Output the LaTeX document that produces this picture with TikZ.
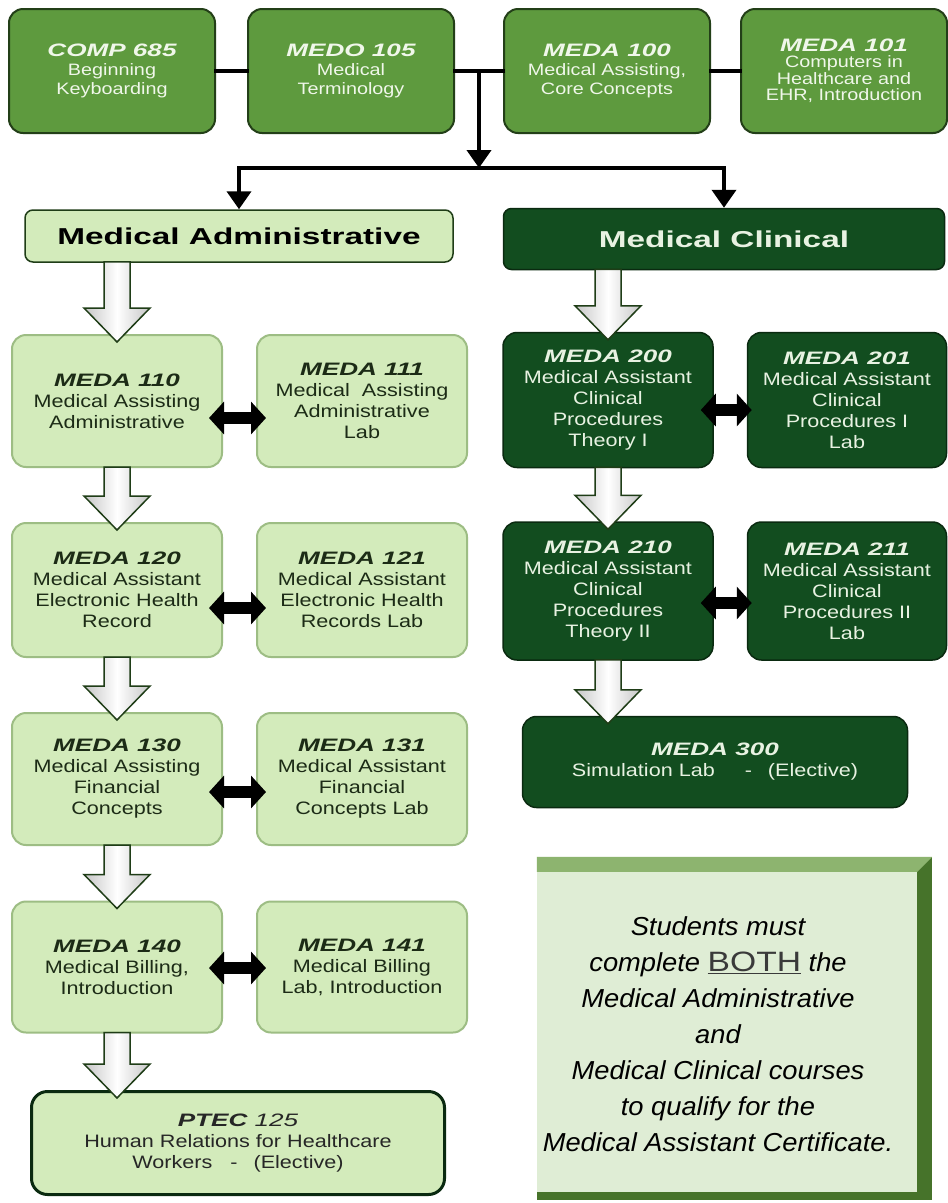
\documentclass[tikz,border=0pt]{standalone}
\usepackage{fontspec}
\setmainfont{Liberation Sans}[FakeStretch=1.2]
\newfontfamily\widefont{Liberation Sans}[FakeStretch=1.45]
\newfontfamily\notefont{Liberation Sans}[FakeStretch=1.05]
\usetikzlibrary{arrows.meta,calc}

\definecolor{topgreen}{HTML}{5E9A3E}
\definecolor{topedge}{HTML}{233F18}
\definecolor{toptext}{HTML}{F0F7EA}
\definecolor{admfill}{HTML}{D3EBBB}
\definecolor{admedge}{HTML}{9DBD84}
\definecolor{admtext}{HTML}{1C2B16}
\definecolor{clinfill}{HTML}{124D1F}
\definecolor{clinedge}{HTML}{0A2A10}
\definecolor{clintext}{HTML}{E8F2E2}
\definecolor{arrowedge}{HTML}{1F3D17}
\definecolor{notefill}{HTML}{DFEDD5}
\definecolor{notetop}{HTML}{8DB46F}
\definecolor{noteedge}{HTML}{46732A}
\definecolor{bothgray}{HTML}{3A3A3A}

\newcommand{\ctitle}[1]{{\widefont\bfseries\itshape\fontsize{18}{21}\selectfont #1}}

% hollow down arrow from box #1 to box #2, placed on the x of #3
\newcommand{\flowdown}[3]{%
    \path[hollow] let \p1 = (#1.south), \p2 = (#2.north), \p3 = (#3) in
        (\x3-13pt,\y1+1pt) -- (\x3-13pt,\y2+26pt) -- (\x3-33pt,\y2+26pt)
        -- (\x3,\y2-8pt) -- (\x3+33pt,\y2+26pt) -- (\x3+13pt,\y2+26pt)
        -- (\x3+13pt,\y1+1pt) -- cycle;}

\tikzset{
    course/.style = {rectangle, rounded corners=14pt, minimum width=210pt,
        minimum height=132pt, align=center, inner sep=2pt,
        font=\fontsize{18}{21}\selectfont},
    toprow/.style = {course, fill=topgreen, draw=topedge, line width=2pt,
        text=toptext, minimum width=206pt, minimum height=124pt,
        font=\fontsize{16.5}{19}\selectfont},
    admbox/.style = {course, fill=admfill, draw=admedge, line width=2pt, text=admtext},
    clinbox/.style = {course, fill=clinfill, draw=clinedge, line width=1.5pt, text=clintext},
    header/.style = {rectangle, rounded corners=8pt, line width=1.5pt,
        font=\widefont\bfseries\fontsize{23}{26}\selectfont},
    link/.style = {line width=4pt, black, line cap=rect},
    pointer/.style = {line width=4pt, black, -{Triangle[width=24pt,length=18pt]}},
    pairarrow/.style = {line width=12pt, black,
        {Triangle[width=32pt,length=15pt]}-{Triangle[width=32pt,length=15pt]}},
    hollow/.style = {draw=arrowedge, line width=1.5pt, line join=miter,
        left color=gray!45, right color=gray!45, middle color=white}
}

\begin{document}
\begin{tikzpicture}[x=1pt, y=-1pt]
    \fill[white] (0,0) rectangle (948,1203);
    \useasboundingbox (0,0) rectangle (948,1203);

    \node[toprow] (comp685) at (112,71) {\ctitle{COMP 685}\\Beginning\\Keyboarding};
    \node[toprow] (medo105) at (351,71) {\ctitle{MEDO 105}\\Medical\\Terminology};
    \node[toprow] (meda100) at (607,71) {\ctitle{MEDA 100}\\Medical Assisting,\\Core Concepts};
    \node[toprow, font=\fontsize{16.5}{16.5}\selectfont] (meda101) at (844,71)
        {\ctitle{MEDA 101}\\Computers in\\Healthcare and\\EHR, Introduction};

    \draw[link] (comp685.east) -- (medo105.west);
    \draw[link] (medo105.east) -- (meda100.west);
    \draw[link] (meda100.east) -- (meda101.west);
    \coordinate (mid) at ($(medo105.east)!0.5!(meda100.west)$);
    \coordinate (split) at (mid |- 0,168);

    \node[header, fill=admfill, draw=arrowedge, text=black, minimum width=428pt,
        minimum height=52pt] (admin) at (239,236) {Medical Administrative};
    \node[header, fill=clinfill, draw=clinedge, text=clintext, minimum width=441pt,
        minimum height=61pt] (clinical) at (724,239) {Medical Clinical};

    \draw[pointer] (mid) -- (split);
    \draw[link] (admin.north |- split) -- (clinical.north |- split);
    \draw[pointer] (admin.north |- split) -- (admin.north);
    \draw[pointer] (clinical.north |- split) -- (clinical.north);

    \node[admbox] (meda110) at (117,401) {\ctitle{MEDA 110}\\Medical Assisting\\Administrative};
    \node[admbox] (meda111) at (362,401) {\ctitle{MEDA 111}\\Medical~ Assisting\\Administrative\\Lab};
    \node[admbox, minimum height=134pt] (meda120) at (117,590) {\ctitle{MEDA 120}\\Medical Assistant\\Electronic Health\\Record};
    \node[admbox, minimum height=134pt] (meda121) at (362,590) {\ctitle{MEDA 121}\\Medical Assistant\\Electronic Health\\Records Lab};
    \node[admbox] (meda130) at (117,779) {\ctitle{MEDA 130}\\Medical Assisting\\Financial\\Concepts};
    \node[admbox] (meda131) at (362,779) {\ctitle{MEDA 131}\\Medical Assistant\\Financial\\Concepts Lab};
    \node[admbox, minimum height=131pt] (meda140) at (117,967) {\ctitle{MEDA 140}\\Medical Billing,\\Introduction};
    \node[admbox, minimum height=131pt] (meda141) at (362,967) {\ctitle{MEDA 141}\\Medical Billing\\Lab, Introduction};
    \node[admbox, draw=clinedge, line width=3pt, rounded corners=16pt, minimum width=413pt,
        minimum height=103pt, text=black!85] (ptec125) at (238,1143)
        {{\widefont\fontsize{18}{21}\selectfont\itshape\textbf{PTEC} 125}\\Human Relations for Healthcare\\Workers\hspace{18pt}-\hspace{16pt}(Elective)};

    \node[clinbox, minimum height=135pt] (meda200) at (608,400) {\ctitle{MEDA 200}\\Medical Assistant\\Clinical\\Procedures\\Theory I};
    \node[clinbox, minimum width=199pt, minimum height=135pt] (meda201) at (847,400) {\ctitle{MEDA 201}\\Medical Assistant\\Clinical\\Procedures I\\Lab};
    \node[clinbox, minimum height=138pt] (meda210) at (608,591) {\ctitle{MEDA 210}\\Medical Assistant\\Clinical\\Procedures\\Theory II};
    \node[clinbox, minimum width=199pt, minimum height=138pt] (meda211) at (847,591) {\ctitle{MEDA 211}\\Medical Assistant\\Clinical\\Procedures II\\Lab};
    \node[clinbox, minimum width=385pt, minimum height=91pt] (meda300) at (715,762)
        {\ctitle{MEDA 300}\\Simulation Lab\hspace{30pt}-\hspace{16pt}(Elective)};

    \flowdown{admin}{meda110}{meda110}
    \flowdown{meda110}{meda120}{meda110}
    \flowdown{meda120}{meda130}{meda120}
    \flowdown{meda130}{meda140}{meda130}
    \flowdown{meda140}{ptec125}{meda140}
    \flowdown{clinical}{meda200}{meda200}
    \flowdown{meda200}{meda210}{meda200}
    \flowdown{meda210}{meda300}{meda210}

    \draw[pairarrow, shorten <=-14pt, shorten >=-10pt] ([yshift=-17pt]meda110.east) -- ([yshift=-17pt]meda111.west);
    \draw[pairarrow, shorten <=-14pt, shorten >=-10pt] ([yshift=-18pt]meda120.east) -- ([yshift=-18pt]meda121.west);
    \draw[pairarrow, shorten <=-14pt, shorten >=-10pt] ([yshift=-13pt]meda130.east) -- ([yshift=-13pt]meda131.west);
    \draw[pairarrow, shorten <=-14pt, shorten >=-10pt] ([yshift=-1pt]meda140.east) -- ([yshift=-1pt]meda141.west);
    \draw[pairarrow, shorten <=-13pt, shorten >=-5pt] ([yshift=-10pt]meda200.east) -- ([yshift=-10pt]meda201.west);
    \draw[pairarrow, shorten <=-13pt, shorten >=-5pt] ([yshift=-12pt]meda210.east) -- ([yshift=-12pt]meda211.west);

    \node[rectangle, fill=noteedge, minimum width=395pt, minimum height=343pt,
        inner sep=0pt] (note) at (734.5,1028.5) {};
    \fill[notetop] (note.north west) -- (note.north east) -- ([shift={(-15pt,-15pt)}]note.north east)
        -- ([shift={(0pt,-15pt)}]note.north west) -- cycle;
    \fill[notefill] ([shift={(0pt,-15pt)}]note.north west) rectangle ([shift={(-15pt,8pt)}]note.south east);
    \node[align=center, font=\notefont\itshape\fontsize{26}{36}\selectfont] (notetext) at (718,1034)
        {Students must\\complete {\normalfont\fontsize{28}{36}\selectfont\color{bothgray}\underline{BOTH}} the\\
         Medical Administrative\\and\\Medical Clinical courses\\to qualify for the\\
         Medical Assistant Certificate.};
\end{tikzpicture}
\end{document}
